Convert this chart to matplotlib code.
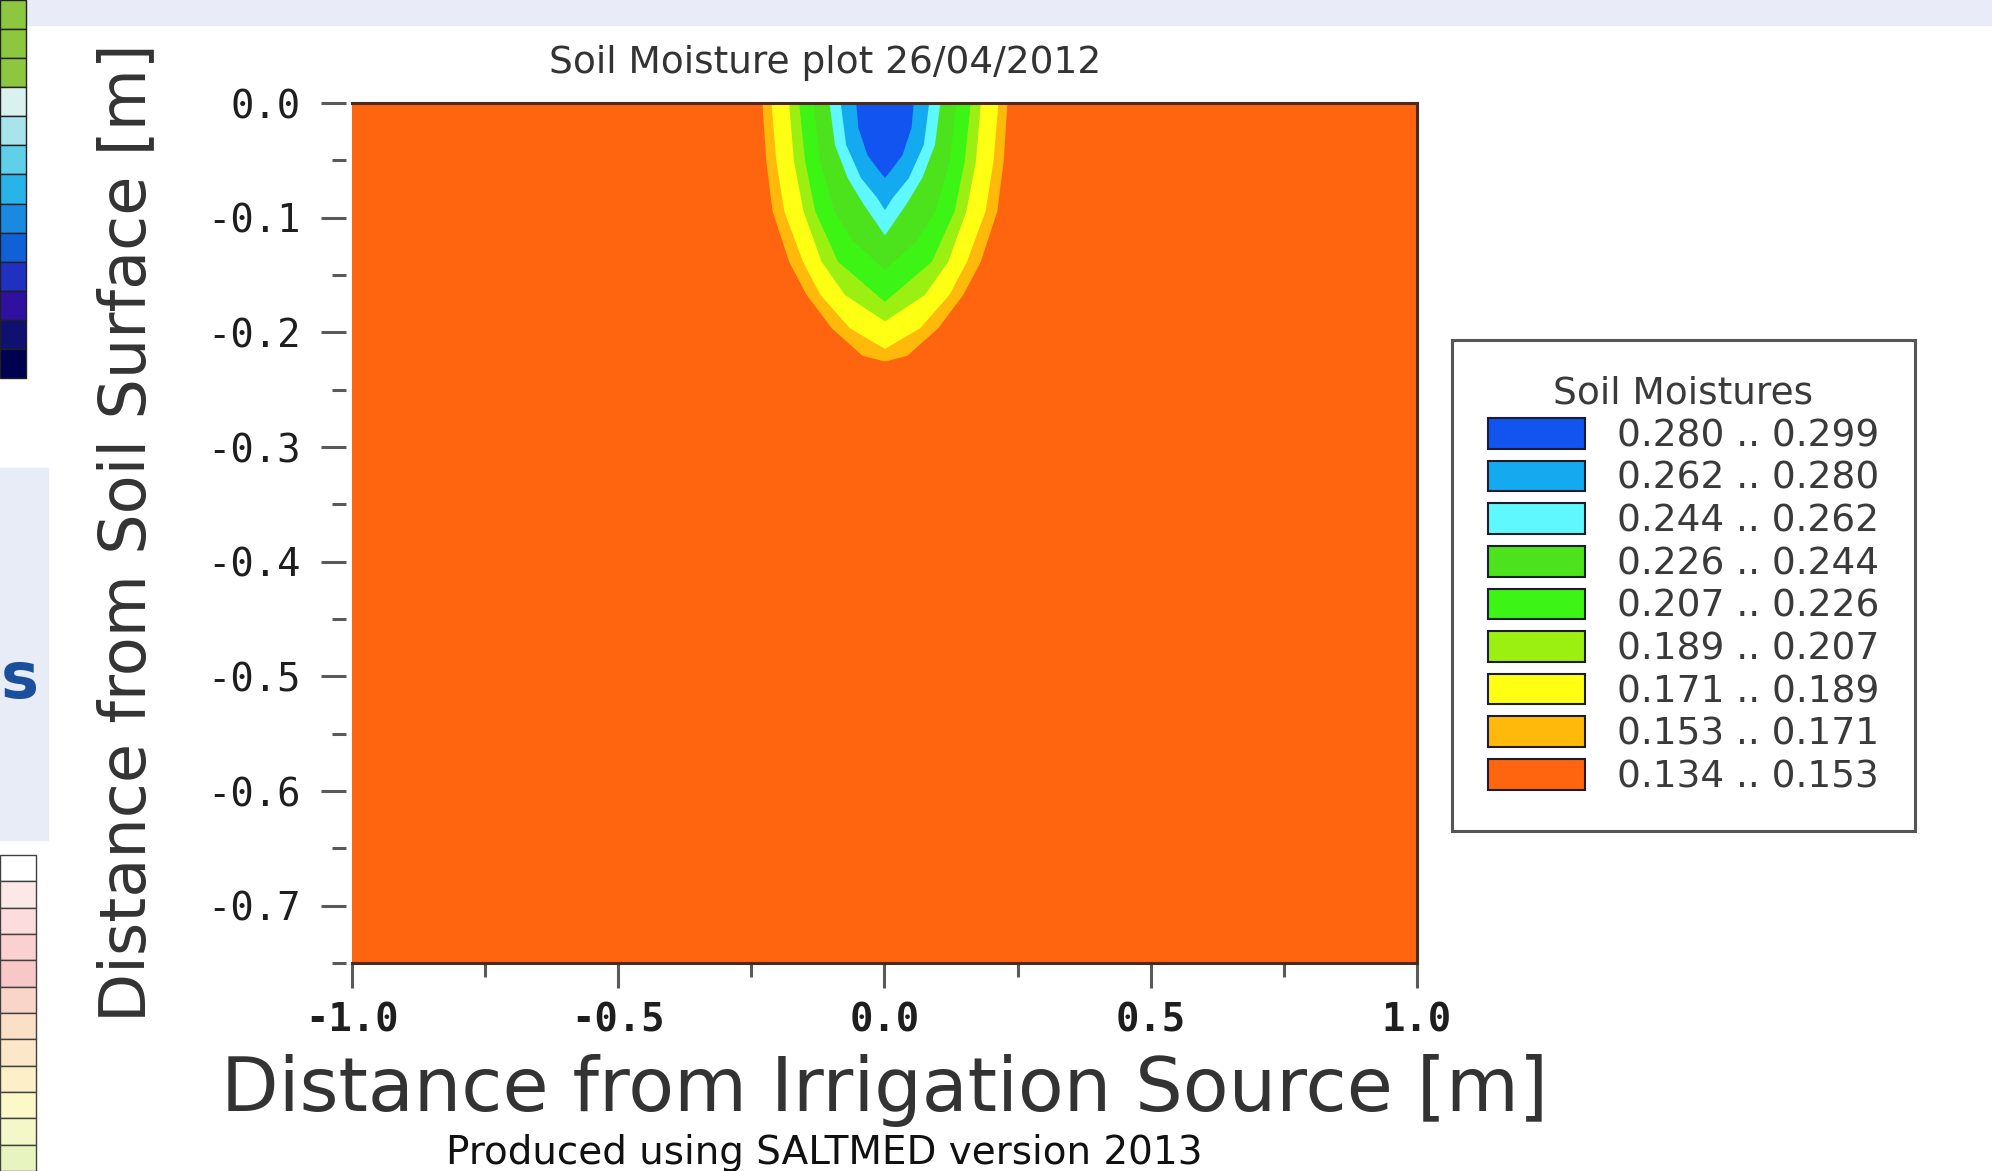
import numpy as np
import matplotlib
matplotlib.use('Agg')
import matplotlib.pyplot as plt
from matplotlib.patches import Patch, Rectangle
from matplotlib.ticker import MultipleLocator, FormatStrFormatter

# contour class limits (soil moisture) and fill colours, low -> high
levels = [0.134, 0.153, 0.171, 0.189, 0.207, 0.226, 0.244, 0.262, 0.280, 0.299]
band_colors = ['#FF640F', '#FFB90A', '#FFFF14', '#9BF012', '#3CF514',
               '#4DE31C', '#5FF8FF', '#14AAF0', '#1254F0']

# model domain
x_domain = [-1.0, 1.0]
depth_domain = [0.0, 0.75]

# contour boundaries: depth [m] and half width [m] around the emitter
depth_153 = [0.0, 0.05, 0.094, 0.138, 0.167, 0.196, 0.220, 0.225]
width_153 = [0.230, 0.223, 0.211, 0.180, 0.147, 0.100, 0.042, 0.0]
depth_171 = [0.0, 0.05, 0.094, 0.138, 0.167, 0.196, 0.214]
width_171 = [0.213, 0.204, 0.189, 0.154, 0.121, 0.066, 0.0]
depth_189 = [0.0, 0.05, 0.094, 0.138, 0.167, 0.190]
width_189 = [0.180, 0.171, 0.153, 0.119, 0.075, 0.0]
depth_207 = [0.0, 0.05, 0.094, 0.138, 0.173]
width_207 = [0.161, 0.150, 0.131, 0.088, 0.0]
depth_226 = [0.0, 0.05, 0.094, 0.120, 0.145]
width_226 = [0.134, 0.122, 0.095, 0.060, 0.0]
depth_244 = [0.0, 0.036, 0.065, 0.088, 0.115]
width_244 = [0.104, 0.094, 0.070, 0.040, 0.0]
depth_262 = [0.0, 0.036, 0.065, 0.082, 0.093]
width_262 = [0.083, 0.073, 0.045, 0.015, 0.0]
depth_280 = [0.0, 0.021, 0.045, 0.058, 0.065]
width_280 = [0.054, 0.050, 0.033, 0.012, 0.0]

boundaries = [(depth_153, width_153), (depth_171, width_171), (depth_189, width_189),
              (depth_207, width_207), (depth_226, width_226), (depth_244, width_244),
              (depth_262, width_262), (depth_280, width_280)]

fig = plt.figure(figsize=(19.92, 11.71), dpi=100)

# bits of the slide around the screenshot
fig.add_artist(Rectangle((0, 1 - 25/1171), 1, 25/1171, transform=fig.transFigure,
                         color='#e9ecf8', zorder=0))
fig.add_artist(Rectangle((0, 1 - 840/1171), 48/1992, 372/1171, transform=fig.transFigure,
                         color='#e8ecf6', zorder=0))
fig.text(1/1992, 1 - 680/1171, 's', ha='left', va='center', fontsize=46,
         fontweight='bold', color='#1a4f9c')
top_bar = ['#8dc63f', '#8dc63f', '#8dc63f', '#d9f2f0', '#a8e4ec', '#5fd0e8', '#28b4e8',
           '#1a8ae0', '#1060d8', '#2030c0', '#3010a0', '#101070', '#000050']
h = 378 / len(top_bar)
for i, c in enumerate(top_bar):
    fig.add_artist(Rectangle((0, 1 - (i + 1)*h/1171), 26/1992, h/1171, transform=fig.transFigure,
                             facecolor=c, edgecolor='#202020', lw=1))
bottom_bar = ['#ffffff', '#fde8e8', '#fcdcdc', '#fad0d0', '#f8c8c8', '#f9d4c8', '#fbe0c8',
              '#fce8c8', '#fdf0c8', '#fdf8c8', '#f4f8c8', '#e8f4c0']
h = 316 / len(bottom_bar)
for i, c in enumerate(bottom_bar):
    fig.add_artist(Rectangle((0, 1 - (855 + (i + 1)*h)/1171), 36/1992, h/1171,
                             transform=fig.transFigure, facecolor=c, edgecolor='#404040', lw=1))

ax = fig.add_axes([0.1767, 0.1776, 0.5346, 0.7344])
ax.fill_between(x_domain, [-depth_domain[1]]*2, [-depth_domain[0]]*2,
                color=band_colors[0], lw=0)
for i, (d, w) in enumerate(boundaries):
    d = np.asarray(d)
    w = np.asarray(w)
    ax.fill_betweenx(-d, -w, w, color=band_colors[i + 1], lw=0)

ax.set_xlim(x_domain)
ax.set_ylim(-depth_domain[1], -depth_domain[0])

ax.xaxis.set_major_locator(MultipleLocator(0.5))
ax.xaxis.set_minor_locator(MultipleLocator(0.25))
ax.yaxis.set_major_locator(MultipleLocator(0.1))
ax.yaxis.set_minor_locator(MultipleLocator(0.05))
ax.xaxis.set_major_formatter(FormatStrFormatter('%.1f'))
ax.yaxis.set_major_formatter(FormatStrFormatter('%.1f'))
ax.tick_params(which='major', length=18, width=2.2, color='#5a5a5a', direction='out',
               labelsize=28, labelcolor='#1e1e1e', labelfontfamily='DejaVu Sans Mono')
ax.tick_params(which='minor', length=10, width=2.2, color='#5a5a5a', direction='out')
ax.tick_params(axis='y', which='major', pad=15)
ax.tick_params(axis='x', which='major', pad=10)
for lbl in ax.get_xticklabels() + ax.get_yticklabels():
    lbl.set_fontweight('bold')

for s in ['top', 'right', 'bottom']:
    ax.spines[s].set_color('#4a2a18')
    ax.spines[s].set_linewidth(2.2)
ax.spines['left'].set_position(('outward', 4))
ax.spines['left'].set_visible(False)

ax.set_xlabel('Distance from Irrigation Source [m]', fontsize=54, color='#333333', va='center')
ax.xaxis.set_label_coords(0.5, -0.148)
ax.set_ylabel('Distance from Soil Surface [m]', fontsize=46, color='#333333', va='center')
ax.yaxis.set_label_coords(-0.211, 0.5)

fig.text(825/1992, 1 - 63/1171, 'Soil Moisture plot 26/04/2012', ha='center', va='center',
         fontsize=27, color='#333333')
fig.text(824/1992, 1 - 1153/1171, 'Produced using SALTMED version 2013', ha='center',
         va='center', fontsize=28, color='#111111')

handles = [Patch(facecolor=band_colors[i], edgecolor='#1c1c2a', linewidth=1.5)
           for i in reversed(range(len(band_colors)))]
labels = ['%.3f .. %.3f' % (levels[i], levels[i + 1]) for i in reversed(range(len(band_colors)))]
leg = fig.legend(handles, labels, loc='upper left', bbox_to_anchor=(0.7289, 0.7097),
                 borderaxespad=0, fontsize=27, title='Soil Moistures', title_fontsize=27,
                 handlelength=2.59, handleheight=0.88, handletextpad=0.85,
                 labelspacing=0.17, borderpad=0.95, fancybox=False,
                 edgecolor='#555555', framealpha=1)
leg.get_frame().set_linewidth(2.2)
for t in leg.get_texts():
    t.set_color('#3a3a3a')
leg.get_title().set_color('#3a3a3a')

fig.savefig('out.png', dpi=100)
